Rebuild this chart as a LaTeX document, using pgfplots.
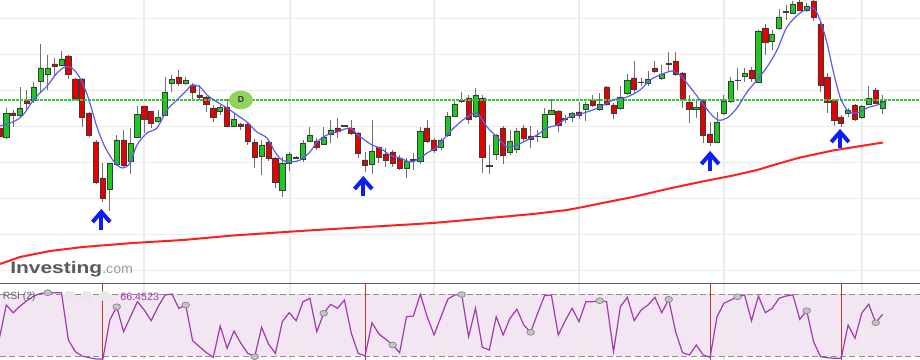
\documentclass[border=0pt]{standalone}
\usepackage{fontspec}
\setmainfont{Liberation Sans}
\usepackage{pgfplots}
\usepackage{pgfplotstable}
\pgfplotsset{compat=1.18}
\usetikzlibrary{shapes.geometric}
\definecolor{gridc}{HTML}{ECECEC}
\definecolor{lav}{HTML}{F2E6F3}
\definecolor{wickc}{HTML}{707070}
\definecolor{cgreen}{HTML}{1EC81E}
\definecolor{cred}{HTML}{E60000}
\definecolor{edgec}{HTML}{3C3C3C}
\definecolor{bluel}{HTML}{5B5BF5}
\definecolor{redl}{HTML}{FF1F1F}
\definecolor{arrowb}{HTML}{0A1EF5}
\definecolor{rsip}{HTML}{A23BAE}
\definecolor{dashc}{HTML}{8F8F8F}
\definecolor{rsired}{HTML}{B03A3A}
\definecolor{borderc}{HTML}{5E5E5E}
\definecolor{levelgreen}{HTML}{33CC33}
\definecolor{badge}{HTML}{8FD35F}
\definecolor{logog}{HTML}{5A5A5A}
\definecolor{comg}{HTML}{9B9B9B}
\definecolor{mkfill}{HTML}{C4C4C4}
\definecolor{mkdraw}{HTML}{858585}

% candles: k = candle index, o h l c in chart units (pixel rows, downward)
\pgfplotstableread{
k o h l c
1 137 108 139 113
3 115 87 117 108
5 100 82 103 87
6 81 44 92 68
7 74 55 90 68
9 65 51 66 59
16 189 163 211 163
17 164 135 166 140
19 161 128 174 143
20 137 106 137 114
23 121 110 123 117
24 115 77 115 92
25 83 75 92 79
27 83 77 85 80
32 111 105 115 107
34 126 113 127 119
38 156 140 175 145
41 190 157 197 163
42 163 152 171 154
44 159 140 162 143
45 141 127 142 135
47 144 127 145 137
48 134 120 143 130
54 164 120 174 151
59 168 158 178 161
60 160 153 170 159.4
61 161 127 164 131
64 147 138 150 140
65 135 112 137 116
66 116 100 117 104
69 116 88 118 95
72 154 134 160 135
74 152 130 155 141
75 149 128 153 131
78 136.6 130 142 136
79 137 108 138 114
80 114 99 115 110
82 119 115 123 118.4
83 117 112 122 113
85 109 102 121 104
87 109 93 111 104
90 108 86 110 97
91 93 74 95 80
94 83 71 86 79
96 78 65 80 74
97 64 52 72 63.4
101 109 100 118 107
104 142 112 143 122
105 113 95 115 101
106 101 77 103 81
107 80.6 68 90 80
108 76 68 82 73
110 82 30 83 31
112 41 30 50 34
113 28 9 30 17
115 13 1 14 4
117 10 3 12 6
123 113 108 117 110
125 117 105 119 106
126 104 86 105 98
128 108 95 114 101
}\greentab

\pgfplotstableread{
k o h l c
0 128 126 138 136
2 113 110 127 115
4 100 90 110 103
8 64 58 75 66
10 56 55 79 74
11 79 78 100 98
12 79 78 127 117
13 113 112 137 135
14 142 140 184 182
15 178 163 202 198
18 140 130 167 165
21 106 106 133 119
22 111 111 128 123
26 77 70 86 83
28 85 83 99 92
29 95 85 100 97
30 97 96 112 104
31 108 105 122 117
33 107 99 127 126
35 124 123 130 126
36 124 123 145 141
37 142 139 168 157
39 142 139 161 158
40 158 157 188 182
43 157 156 159 158
46 141 138 150 147
49 128 118 138 131
50 125.5 125 127 126
51 128 120 135 133
52 133 132 158 153
53 160 152 172 165
55 147 147 163 157
56 154 148 167 160
57 152 150 167 163
58 158 155 170 168
62 128 120 143 141
63 140 138 153 150
67 100.5 92 103 101
68 98 95 124 119
70 98 95 173 157
71 165.5 145 174 166
73 128 126 164 155
76 128 125 142 138
77 136 126 148 139
81 111 110 132 125
84 112 102 119 115
86 100 95 107 105
88 87 86 106 104
89 105 103 119 113
92 78 61 93 89
93 82 78 86 82.5
95 68 61 73 71
98 61 52 76 74
99 73 72 108 99
100 102 95 123 109
102 101 99 143 135
103 134 122 146 142
109 70 67 82 78
111 28 24 55 42
114 11.5 5 20 12
116 2 0.5 11 10
118 1 0.5 21 17
119 24 22 92 85
120 77 73 113 102
121 100 99 126 120
122 117 115 127 123
124 105 104 121 119
127 90 88 104 103
}\redtab

\pgfplotstableread{
k y
0.09 126
1.97 122
3.42 115
4.72 102
5.88 93
7.04 85
8.35 73
9.51 67
10.52 68
11.68 78
12.84 97
14.14 127
15.3 147
16.75 163
17.91 168
18.93 163
19.94 145
21.39 133
22.84 128
24.29 110
25.74 100
27.19 90
27.91 85
29.07 87
30.09 95
31.54 102
32.99 108
34.43 115
35.88 122
37.33 132
38.78 138
39.94 152
40.96 160
42.12 162
43.57 160
45.01 152
46.03 142
47.48 135
48.93 132
50.81 128
51.97 135
53.99 145
55.16 148
56.61 155
58.06 158
59.51 162
60.52 160
61.97 153
63.42 147
64.87 135
66.32 125
67.77 117
69.22 113
70.67 127
72.12 137
73.57 147
75.01 145
76.46 140
77.91 135
79.36 128
80.81 125
82.26 118
83.71 115
85.16 112
87.04 107
88.93 100
90.96 97
92.84 90
94.29 80
95.74 75
97.48 71
98.64 75
100.09 87
101.54 100
102.99 113
104.14 120
105.45 118
106.9 108
108.35 92
109.8 80
111.25 67
112.7 50
114.14 27
116.03 13
117.91 8
118.93 20
119.94 43
120.81 70
121.83 97
122.84 110
123.71 113
124.72 112
125.74 108
127.19 105
128.06 103
}\bluema

\pgfplotstableread{
k y
0.087 264
2.98 257
7.33 251
12.1 247
19.36 243
26.61 240
33.86 235.5
43.57 231
48.35 229
53.27 227
58.06 225
62.84 223
67.77 220
72.55 217
77.33 214
82.26 210
84.58 207
87.04 203.5
91.83 197
96.75 189
101.54 182
106.32 175.5
109.8 170
112.7 164
116.03 157.5
120.81 150.5
125.74 145
128.06 142.5
}\redma

\pgfplotstableread{
k y
0 338.3
1 305
2 312.7
3 306
4 300.7
5 296
6 293.3
7 292.7
8 292.7
9 292.7
10 340
11 351.7
12 356
13 357.7
14 359
15 359
16 320
17 306.7
18 331.7
19 316.7
20 301.7
21 310
22 320.7
23 306.7
24 295
25 294
26 308.3
27 305
28 340.7
29 346.7
30 352.7
31 357.3
32 326
33 348.3
34 331
35 343.3
36 353.3
37 356.7
38 327.3
39 344
40 353.3
41 321.7
42 312.7
43 320.7
44 301.7
45 298.3
46 331.7
47 313.3
48 304.3
49 308.3
50 300
51 333.3
52 353.3
53 356
54 322.7
55 334
56 339.3
57 345
58 352.7
59 316.7
60 316
61 294.3
62 316.7
63 335
64 316.7
65 299
66 295
67 294.5
68 336.7
69 308.3
70 347.3
71 350
72 316.7
73 335
74 318.3
75 309.3
76 325
77 332.3
78 313.3
79 295.7
80 295
81 335
82 320.7
83 308.3
84 321.7
85 301.7
86 301.7
87 300.7
88 301.7
89 351.7
90 306.7
91 297.3
92 320.7
93 310
94 305
95 297.3
96 312.7
97 299.3
98 331.7
99 352.7
100 355
101 345
102 355
103 357.3
104 316.7
105 303.3
106 300
107 296.7
108 295
109 320.7
110 296
111 312.7
112 308.3
113 298.3
114 296
115 295
116 319.3
117 310.7
118 341.7
119 356.7
120 357.7
121 358.3
122 358.3
123 325
124 338.3
125 312.7
126 304.3
127 322.7
128 314.3
}\rsitab

\pgfplotstableread{
k y
7 292.7
17 306.7
27 305
37 356.7
47 313.3
57 345
67 294.5
77 332.3
87 300.7
97 299.3
107 296.7
117 310.7
127 322.7
}\rsimarks

\pgfplotsset{panel/.style={scale only axis, width=690pt, height=270pt,
  xmin=0.087, xmax=133.42, ymin=0, ymax=360, y dir=reverse,
  enlargelimits=false, hide axis, at={(0,0)}, anchor=south west}}

\begin{document}
\begin{tikzpicture}
% ---------- background, grid, RSI frame, wicks, long MA ----------
\begin{axis}[panel]
\addplot[fill=white, draw=none] coordinates {(0.087,0) (133.42,0) (133.42,360) (0.087,360)};
\addplot[fill=lav, draw=none] coordinates {(0.087,294) (133.42,294) (133.42,356) (0.087,356)};
\pgfplotsinvokeforeach{20.96,42.12,62.99,84.0,105.0,125.0}{
  \addplot[gridc, line width=0.9pt] coordinates {(#1,0) (#1,360)};
}
\pgfplotsinvokeforeach{18.5,54.5,90.5,126.5,162.5,198.5,234.5,270.5}{
  \addplot[gridc, line width=0.9pt] coordinates {(0.087,#1) (133.42,#1)};
}
\addplot[dashc, line width=0.75pt, dash pattern=on 4.5pt off 2.5pt] coordinates {(0.087,294) (133.42,294)};
\addplot[dashc, line width=0.75pt, dash pattern=on 4.5pt off 2.5pt] coordinates {(0.087,356) (133.42,356)};
\addplot[borderc, line width=0.9pt] coordinates {(0.087,283.3) (133.42,283.3)};
\pgfplotsinvokeforeach{15.0,53.0,103.1,122.1}{
  \addplot[rsired, line width=0.8pt] coordinates {(#1,283.3) (#1,360)};
}
\addplot[redl, line width=1.5pt] table[x=k, y=y] {\redma};
\addplot[wickc, line width=0.75pt, mark=none, quiver={u=0, v=\thisrow{l}-\thisrow{h}}] table[x=k, y=h] {\greentab};
\addplot[wickc, line width=0.75pt, mark=none, quiver={u=0, v=\thisrow{l}-\thisrow{h}}] table[x=k, y=h] {\redtab};
\end{axis}
% ---------- green bodies ----------
\begin{axis}[panel, ybar stacked, bar width=3.9pt]
\addplot[draw=none, fill=none] table[x=k, y=c] {\greentab};
\addplot[fill=cgreen, draw=edgec, line width=0.5pt] table[x=k, y expr=\thisrow{o}-\thisrow{c}] {\greentab};
\end{axis}
% ---------- red bodies ----------
\begin{axis}[panel, ybar stacked, bar width=3.9pt]
\addplot[draw=none, fill=none] table[x=k, y=o] {\redtab};
\addplot[fill=cred, draw=edgec, line width=0.5pt] table[x=k, y expr=\thisrow{c}-\thisrow{o}] {\redtab};
\end{axis}
% ---------- overlays ----------
\begin{axis}[panel]
\addplot[draw=levelgreen, line width=1.5pt, dash pattern=on 2pt off 1pt] coordinates {(0.087,99.5) (133.42,99.5)};
\addplot[bluel, line width=0.9pt, smooth] table[x=k, y=y] {\bluema};
% arrows
\addplot[arrowb, line width=3pt, line join=miter] coordinates {(13.5,222) (14.77,212) (16.04,222)};
\addplot[arrowb, line width=3pt] coordinates {(14.77,213) (14.77,230)};
\addplot[arrowb, line width=3pt, line join=miter] coordinates {(51.47,189) (52.74,179) (54.01,189)};
\addplot[arrowb, line width=3pt] coordinates {(52.74,180) (52.74,196)};
\addplot[arrowb, line width=3pt, line join=miter] coordinates {(101.73,164) (103.0,154) (104.27,164)};
\addplot[arrowb, line width=3pt] coordinates {(103.0,155) (103.0,171)};
\addplot[arrowb, line width=3pt, line join=miter] coordinates {(120.56,142) (121.83,132) (123.1,142)};
\addplot[arrowb, line width=3pt] coordinates {(121.83,133) (121.83,148)};
% RSI
\addplot[rsip, line width=0.9pt] table[x=k, y=y] {\rsitab};
\addplot[only marks, mark=*, mark size=2.2pt, mark options={xscale=1.3, fill=mkfill, draw=mkdraw, line width=0.5pt}] table[x=k, y=y] {\rsimarks};
\node[ellipse, fill=badge, minimum width=18pt, minimum height=14pt, inner sep=0pt,
  font=\fontsize{6.5pt}{7pt}\selectfont\bfseries, text=black!80] at (axis cs:35.0,100) {D};
\node[anchor=base west, inner sep=0pt, text=logog] at (axis cs:1.536,273.5)
  {\resizebox{69pt}{9pt}{\bfseries Investing}\textcolor{comg}{\resizebox{23pt}{5.5pt}{.com}}};
\node[anchor=west, inner sep=0pt, text=black!62, font=\fontsize{7.8pt}{9pt}\selectfont] at (axis cs:0.45,296.5) {RSI (2)};
\node[anchor=west, inner sep=0pt, text=rsip, font=\fontsize{8pt}{9pt}\selectfont] at (axis cs:17.5,296.5) {66.4523};
\node[rounded corners=1pt, fill=black!9, minimum size=7pt, inner sep=0pt] at (axis cs:10.2,296) {};
\node[rounded corners=1pt, fill=black!9, minimum size=7pt, inner sep=0pt] at (axis cs:12.7,296) {};
\node[rounded corners=1pt, fill=black!9, minimum size=7pt, inner sep=0pt] at (axis cs:15.2,296) {};
\end{axis}
\end{tikzpicture}
\end{document}
